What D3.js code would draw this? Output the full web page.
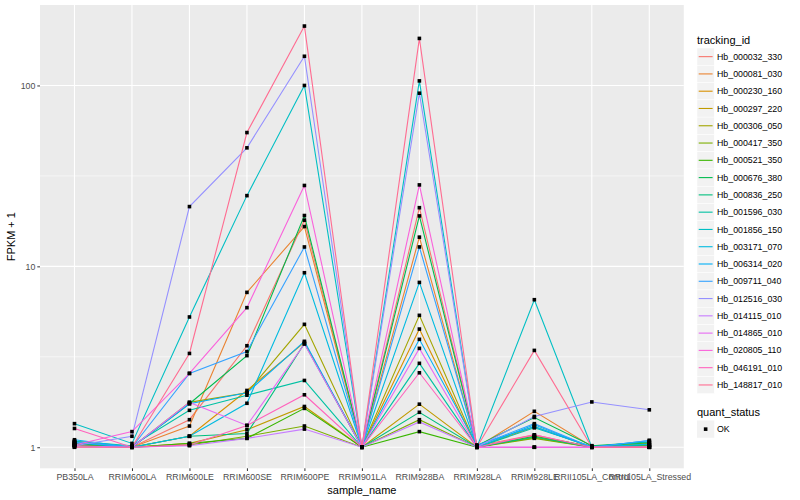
<!DOCTYPE html>
<html>
<head>
<meta charset="utf-8">
<script src="https://cdn.jsdelivr.net/npm/d3@7"></script>
<style>
  body { margin: 0; background: #fff; }
  text { font-family: "Liberation Sans", Arial, sans-serif; }
</style>
</head>
<body>
<div id="chart"></div>
<script>
var svgWidth = 800;
var svgHeight = 500;

// panel box (ggplot grey area)
var panel = { left: 40, right: 683.8, top: 5, bottom: 468.3 };

var samples = ['PB350LA', 'RRIM600LA', 'RRIM600LE', 'RRIM600SE', 'RRIM600PE', 'RRIM901LA',
    'RRIM928BA', 'RRIM928LA', 'RRIM928LE', 'RRII105LA_Control', 'RRII105LA_Stressed'];

var trackingIds = ['Hb_000032_330', 'Hb_000081_030', 'Hb_000230_160', 'Hb_000297_220', 'Hb_000306_050',
    'Hb_000417_350', 'Hb_000521_350', 'Hb_000676_380', 'Hb_000836_250', 'Hb_001596_030',
    'Hb_001856_150', 'Hb_003171_070', 'Hb_006314_020', 'Hb_009711_040', 'Hb_012516_030',
    'Hb_014115_010', 'Hb_014865_010', 'Hb_020805_110', 'Hb_046191_010', 'Hb_148817_010'];

// ggplot hue palette for 20 levels
var hueColors = ['#F8766D', '#EA8331', '#D89000', '#C09B00', '#A3A500', '#7CAE00', '#39B600', '#00BB4E',
    '#00BF7D', '#00C1A3', '#00BFC4', '#00BAE0', '#00B0F6', '#35A2FF', '#9590FF', '#C77CFF',
    '#E76BF3', '#FA62DB', '#FF62BC', '#FF6C91'];

// FPKM + 1, one row per tracking_id, one column per sample
var fpkm = [
    [1.05, 1.00, 1.42, 3.64, 18.0, 1.00, 21.1, 1.02, 1.17, 1.00, 1.00],
    [1.08, 1.00, 1.31, 7.18, 16.6, 1.00, 14.5, 1.00, 1.58, 1.01, 1.03],
    [1.03, 1.00, 1.15, 2.06, 3.80, 1.00, 4.50, 1.00, 1.30, 1.00, 1.05],
    [1.02, 1.00, 1.05, 1.25, 1.68, 1.00, 1.73, 1.00, 1.15, 1.00, 1.02],
    [1.04, 1.00, 1.77, 2.00, 4.78, 1.00, 5.36, 1.00, 1.13, 1.00, 1.03],
    [1.02, 1.00, 1.03, 1.15, 1.31, 1.00, 1.42, 1.00, 1.12, 1.00, 1.02],
    [1.03, 1.00, 1.05, 1.12, 1.64, 1.00, 1.22, 1.00, 1.15, 1.01, 1.06],
    [1.05, 1.00, 1.74, 3.21, 19.1, 1.00, 19.0, 1.02, 1.46, 1.02, 1.07],
    [1.06, 1.00, 1.15, 1.19, 3.75, 1.00, 1.56, 1.00, 1.14, 1.00, 1.03],
    [1.08, 1.02, 1.60, 1.94, 2.34, 1.00, 2.91, 1.00, 1.28, 1.01, 1.07],
    [1.35, 1.05, 5.25, 24.6, 100, 1.00, 106, 1.00, 6.54, 1.00, 1.00],
    [1.06, 1.00, 1.15, 1.75, 9.22, 1.00, 8.15, 1.00, 1.33, 1.00, 1.04],
    [1.10, 1.00, 1.74, 2.00, 3.85, 1.00, 3.95, 1.03, 1.30, 1.00, 1.09],
    [1.07, 1.00, 2.56, 3.38, 12.8, 1.00, 12.8, 1.02, 1.35, 1.00, 1.09],
    [1.02, 1.15, 21.4, 45.2, 145, 1.00, 90.6, 1.00, 1.48, 1.78, 1.61],
    [1.00, 1.00, 1.02, 1.12, 1.26, 1.00, 1.38, 1.00, 1.00, 1.00, 1.00],
    [1.02, 1.00, 1.77, 1.32, 3.72, 1.00, 3.52, 1.00, 1.00, 1.00, 1.00],
    [1.03, 1.22, 2.56, 5.91, 28.0, 1.00, 28.2, 1.00, 1.00, 1.00, 1.00],
    [1.27, 1.00, 1.03, 1.32, 1.95, 1.00, 2.58, 1.00, 1.17, 1.00, 1.00],
    [1.00, 1.00, 3.30, 54.9, 213, 1.00, 182, 1.00, 3.43, 1.00, 1.00]
];

var yTicks = [1, 10, 100];
var yMinor = [Math.sqrt(10), Math.sqrt(1000)];
var statusLevels = ['OK'];

var svg = d3.select('#chart')
    .append('svg')
    .attr('width', svgWidth)
    .attr('height', svgHeight);

// scales
var xScale = d3.scalePoint()
    .domain(samples)
    .range([panel.left, panel.right])
    .padding(0.6);

var allVals = d3.merge(fpkm);
var lo = Math.log10(d3.min(allVals));
var hi = Math.log10(d3.max(allVals));
var pad = (hi - lo) * 0.05;
var yScale = d3.scaleLog()
    .domain([Math.pow(10, lo - pad), Math.pow(10, hi + pad)])
    .range([panel.bottom, panel.top]);

var color = d3.scaleOrdinal().domain(trackingIds).range(hueColors);

// panel background
svg.append('rect')
    .attr('x', panel.left)
    .attr('y', panel.top)
    .attr('width', panel.right - panel.left)
    .attr('height', panel.bottom - panel.top)
    .attr('fill', '#EBEBEB');

// grid
var grid = svg.append('g');
grid.selectAll('.minor')
    .data(yMinor)
    .enter()
    .append('line')
    .attr('x1', panel.left).attr('x2', panel.right)
    .attr('y1', d => yScale(d)).attr('y2', d => yScale(d))
    .attr('stroke', '#fff').attr('stroke-width', 0.55);
grid.selectAll('.majorY')
    .data(yTicks)
    .enter()
    .append('line')
    .attr('x1', panel.left).attr('x2', panel.right)
    .attr('y1', d => yScale(d)).attr('y2', d => yScale(d))
    .attr('stroke', '#fff').attr('stroke-width', 1.1);
grid.selectAll('.majorX')
    .data(samples)
    .enter()
    .append('line')
    .attr('x1', d => xScale(d)).attr('x2', d => xScale(d))
    .attr('y1', panel.top).attr('y2', panel.bottom)
    .attr('stroke', '#fff').attr('stroke-width', 1.1);

// lines
var line = d3.line()
    .x((d, i) => xScale(samples[i]))
    .y(d => yScale(d));

svg.append('g')
    .selectAll('path')
    .data(fpkm)
    .enter()
    .append('path')
    .attr('d', d => line(d))
    .attr('fill', 'none')
    .attr('stroke', (d, i) => color(trackingIds[i]))
    .attr('stroke-width', 1.1);

// points (quant_status = OK)
var pts = [];
fpkm.forEach(function (row) {
    row.forEach(function (v, j) { pts.push({ s: samples[j], v: v }); });
});
svg.append('g')
    .selectAll('rect')
    .data(pts)
    .enter()
    .append('rect')
    .attr('x', d => xScale(d.s) - 1.8)
    .attr('y', d => yScale(d.v) - 1.8)
    .attr('width', 3.6)
    .attr('height', 3.6)
    .attr('fill', '#000');

// axes
var leftAxis = d3.axisLeft(yScale)
    .tickValues(yTicks)
    .tickFormat(d3.format('d'))
    .tickSize(2.7)
    .tickPadding(2);
var yAxis = svg.append('g')
    .attr('transform', `translate(${panel.left}, 0)`)
    .call(leftAxis);

var bottomAxis = d3.axisBottom(xScale)
    .tickSize(2.7)
    .tickPadding(2.5);
var xAxis = svg.append('g')
    .attr('transform', `translate(0, ${panel.bottom})`)
    .call(bottomAxis);

[xAxis, yAxis].forEach(function (ax) {
    ax.select('.domain').remove();
    ax.selectAll('.tick line').attr('stroke', '#333').attr('stroke-width', 1);
    ax.selectAll('.tick text')
        .attr('fill', '#4D4D4D')
        .style('font-size', '8.8px')
        .style('font-family', '"Liberation Sans", Arial, sans-serif');
});

// axis titles
svg.append('text')
    .attr('x', (panel.left + panel.right) / 2)
    .attr('y', 494)
    .attr('text-anchor', 'middle')
    .style('font-size', '11px')
    .text('sample_name');

svg.append('text')
    .attr('transform', `translate(15, ${(panel.top + panel.bottom) / 2}) rotate(-90)`)
    .attr('text-anchor', 'middle')
    .style('font-size', '11px')
    .text('FPKM + 1');

// legend: tracking_id
var legend = svg.append('g').attr('transform', 'translate(697, 0)');
legend.append('text')
    .attr('x', 0)
    .attr('y', 44)
    .style('font-size', '11px')
    .text('tracking_id');

var keyH = 17.28;
var keys = legend.selectAll('.key')
    .data(trackingIds)
    .enter()
    .append('g')
    .attr('transform', (d, i) => `translate(0, ${48 + i * keyH})`);
keys.append('rect')
    .attr('width', 17.28)
    .attr('height', 17.28)
    .attr('fill', '#F2F2F2')
    .attr('stroke', '#fff')
    .attr('stroke-width', 0.5);
keys.append('line')
    .attr('x1', 1.7).attr('x2', 15.6)
    .attr('y1', keyH / 2).attr('y2', keyH / 2)
    .attr('stroke', d => color(d))
    .attr('stroke-width', 1.1);
keys.append('text')
    .attr('x', 20)
    .attr('y', keyH / 2)
    .attr('dy', '0.35em')
    .style('font-size', '8.8px')
    .text(d => d);

// legend: quant_status
var legend2 = svg.append('g').attr('transform', 'translate(697, 0)');
legend2.append('text')
    .attr('x', 0)
    .attr('y', 416)
    .style('font-size', '11px')
    .text('quant_status');
var keys2 = legend2.selectAll('.key2')
    .data(statusLevels)
    .enter()
    .append('g')
    .attr('transform', 'translate(0, 420.5)');
keys2.append('rect')
    .attr('width', 17.28)
    .attr('height', 17.28)
    .attr('fill', '#F2F2F2');
keys2.append('rect')
    .attr('x', 8.64 - 1.8).attr('y', 8.64 - 1.8)
    .attr('width', 3.6).attr('height', 3.6)
    .attr('fill', '#000');
keys2.append('text')
    .attr('x', 20)
    .attr('y', 8.64)
    .attr('dy', '0.35em')
    .style('font-size', '8.8px')
    .text(d => d);
</script>
</body>
</html>
